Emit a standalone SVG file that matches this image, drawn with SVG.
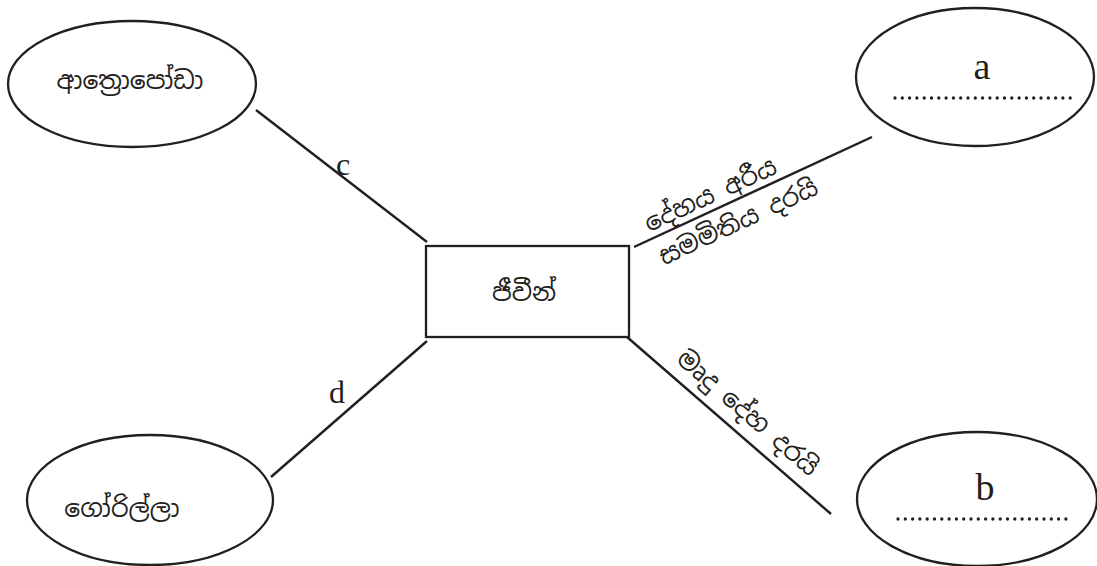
<svg xmlns="http://www.w3.org/2000/svg" width="1097" height="566" viewBox="0 0 1097 566">
<style>
.shape{fill:none;stroke:#231f20;stroke-width:2.3}
.conn{stroke:#231f20;stroke-width:2.4;fill:none}
.si{font-family:"Noto Sans Sinhala","Iskoola Pota","Noto Sans","DejaVu Sans",sans-serif;font-size:25px;fill:#231f20;text-anchor:middle}
.lat{font-family:"Liberation Serif","Times New Roman",serif;fill:#231f20;text-anchor:middle}
.dots{stroke:#231f20;stroke-width:3.3;stroke-linecap:round;stroke-dasharray:0 7.3;fill:none}
</style>
<rect width="1097" height="566" fill="#ffffff"/>
<g id="connectors">
<line class="conn" x1="256" y1="110" x2="427" y2="242"/>
<line class="conn" x1="271" y1="477" x2="427" y2="341"/>
<line class="conn" x1="634" y1="247" x2="872" y2="137"/>
<line class="conn" x1="627" y1="337" x2="831" y2="514"/>
<text class="lat" x="343" y="175" font-size="32">c</text>
<text class="lat" x="337" y="403" font-size="32">d</text>
<text class="si" font-size="22" transform="translate(711,196) rotate(-24.8)" y="7">දේහය අරීය</text>
<text class="si" font-size="22" transform="translate(739,223) rotate(-24.8)" y="7">සමමිතිය දරයි</text>
<text class="si" font-size="22" transform="translate(747,414) rotate(40.8)" y="7">මෘදු දේහ දරයි</text>
</g>
<g id="node-center">
<rect class="shape" x="426" y="246" width="203" height="91"/>
<text class="si" x="524" y="301" font-size="26">ජීවීන්</text>
</g>
<g id="node-arthropoda">
<ellipse class="shape" cx="132" cy="84" rx="124" ry="63"/>
<text class="si" x="130" y="89" font-size="28">ආත්‍රොපෝඩා</text>
</g>
<g id="node-gorilla">
<ellipse class="shape" cx="150" cy="500" rx="123" ry="65"/>
<text class="si" x="122" y="517" font-size="27">ගෝරිල්ලා</text>
</g>
<g id="node-a">
<ellipse class="shape" cx="975" cy="77" rx="119" ry="69"/>
<text class="lat" x="982" y="79" font-size="38">a</text>
<line class="dots" x1="895" y1="98" x2="1071" y2="98"/>
</g>
<g id="node-b">
<ellipse class="shape" cx="977" cy="499" rx="120" ry="67"/>
<text class="lat" x="985" y="500" font-size="38">b</text>
<line class="dots" x1="898" y1="519" x2="1073" y2="519"/>
</g>
</svg>
